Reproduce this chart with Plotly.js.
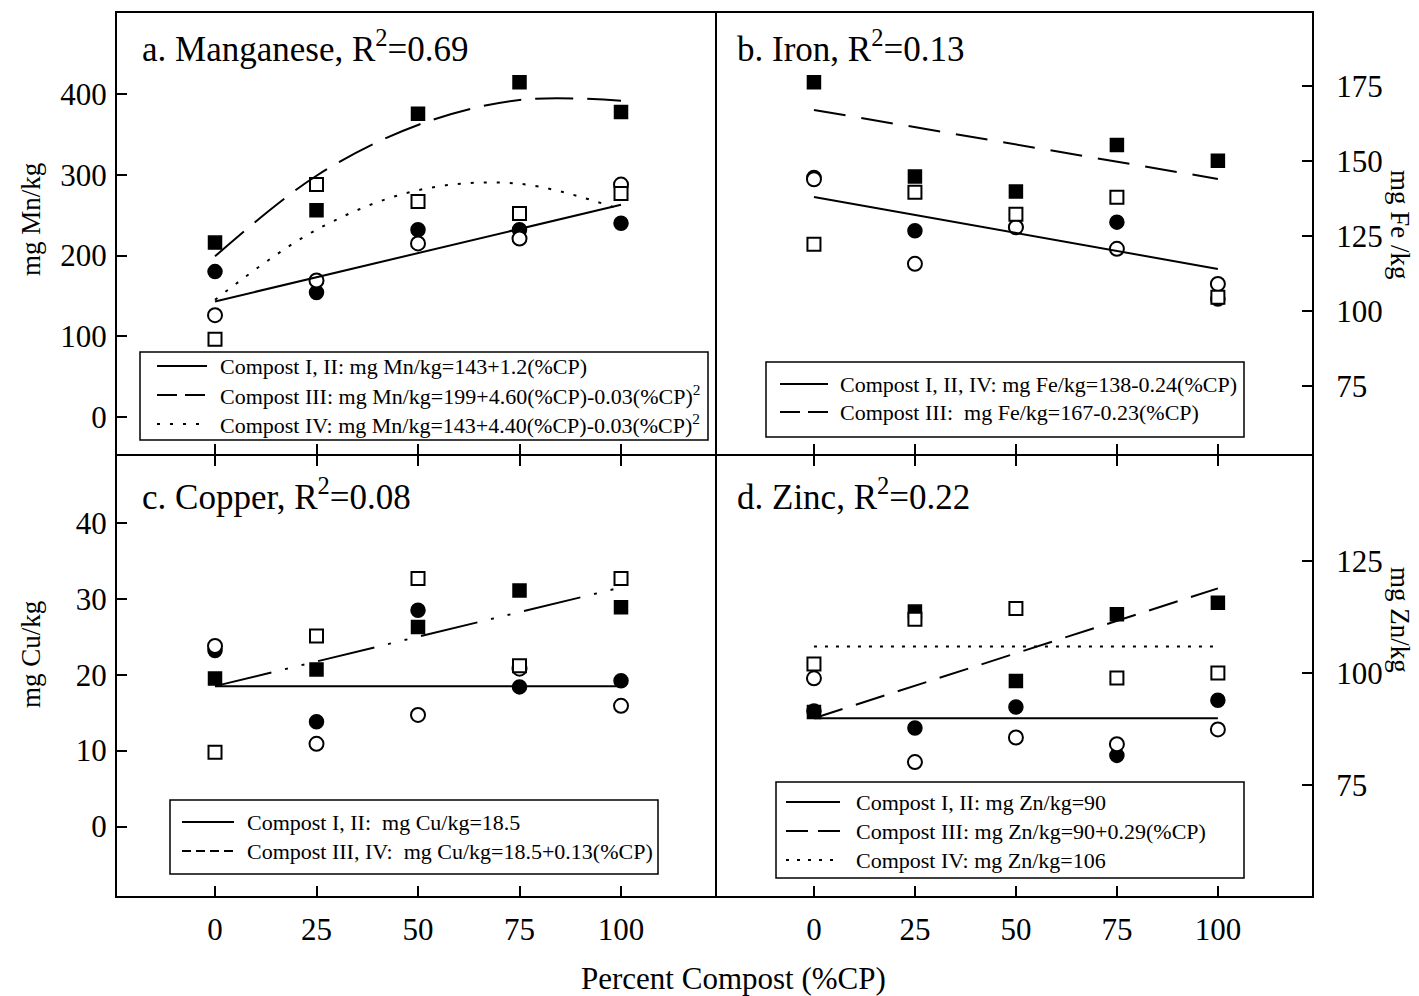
<!DOCTYPE html>
<html>
<head>
<meta charset="utf-8">
<script src="https://cdn.plot.ly/plotly-3.0.1.min.js"></script>
<style>
html,body{margin:0;padding:0;background:#fff;}
#chart{width:1419px;height:996px;}
</style>
</head>
<body>
<div id="chart"></div>
<script>
// ---- data ----
const pct = [0, 25, 50, 75, 100];
const fitEnds = [0, 100];

// Manganese (mg Mn/kg)
const mnCompostI   = [180, 154, 232, 232, 240];   // filled circles
const mnCompostII  = [126, 169, 215, 221, 288];   // open circles
const mnCompostIII = [216, 256, 376, 415, 378];   // filled squares
const mnCompostIV  = [96, 288, 267, 252, 277];    // open squares
const mnFitI_II    = [143, 263];
const mnFitIII     = [199, 299, 362, 393, 392];
const mnFitIV      = [145, 232, 281, 289, 257];

// Iron (mg Fe/kg)
const feCompostI   = [144.5, 126.7, 128, 129.6, 104];
const feCompostII  = [143.9, 115.7, 127.9, 120.7, 109];
const feCompostIII = [176.2, 144.8, 139.8, 155.3, 150.1];
const feCompostIV  = [122.2, 139.6, 132.2, 137.9, 104.6];
const feFitI_II_IV = [138, 114];
const feFitIII     = [167, 144];

// Copper (mg Cu/kg)
const cuCompostI   = [23.2, 13.8, 28.5, 18.4, 19.2];
const cuCompostII  = [23.8, 10.9, 14.7, 20.8, 15.9];
const cuCompostIII = [19.5, 20.7, 26.3, 31.1, 28.9];
const cuCompostIV  = [9.8, 25.1, 32.7, 21.2, 32.7];
const cuFitI_II    = [18.5, 18.5];
const cuFitIII_IV  = [18.5, 31.5];

// Zinc (mg Zn/kg)
const znCompostI   = [91.6, 87.8, 92.5, 81.7, 94.0];
const znCompostII  = [98.9, 80.2, 85.7, 84.2, 87.5];
const znCompostIII = [91.4, 113.8, 98.3, 113.2, 115.8];
const znCompostIV  = [102.1, 112.1, 114.5, 99.0, 100.1];
const znFitI_II    = [90, 90];
const znFitIII     = [90, 119];
const znFitIV      = [106, 106];

// tick labels
const xTicks = [0, 25, 50, 75, 100];
const mnTicks = [0, 100, 200, 300, 400];
const feTicks = [75, 100, 125, 150, 175];
const cuTicks = [0, 10, 20, 30, 40];
const znTicks = [75, 100, 125];

// legend texts
const mnLegend = ["Compost I, II: mg Mn/kg=143+1.2(%CP)",
                  "Compost III: mg Mn/kg=199+4.60(%CP)-0.03(%CP)<sup>2</sup>",
                  "Compost IV: mg Mn/kg=143+4.40(%CP)-0.03(%CP)<sup>2</sup>"];
const feLegend = ["Compost I, II, IV: mg Fe/kg=138-0.24(%CP)",
                  "Compost III:  mg Fe/kg=167-0.23(%CP)"];
const cuLegend = ["Compost I, II:  mg Cu/kg=18.5",
                  "Compost III, IV:  mg Cu/kg=18.5+0.13(%CP)"];
const znLegend = ["Compost I, II: mg Zn/kg=90",
                  "Compost III: mg Zn/kg=90+0.29(%CP)",
                  "Compost IV: mg Zn/kg=106"];

// ---- styling ----
const FONT = "Liberation Serif, Times New Roman, serif";
const W = 1419, H = 996;
const px = v => v / W;
const py = v => 1 - v / H;

const DASH_MN3 = '38px,14px', DOT_MN4 = '3px,10px';
const DASH_FE3 = '32px,16px';
const DASHDOT_CU = '58px,14px,3px,14px,3px,14px';
const DASH_ZN3 = '30px,14px', DOT_ZN4 = '3px,8px';

const MS = 14;
const markerStyles = {
  I:   {symbol: 'circle', size: MS, color: 'black', line: {color: 'black', width: 1.5}},
  II:  {symbol: 'circle', size: MS, color: 'white', line: {color: 'black', width: 2}},
  III: {symbol: 'square', size: MS - 1, color: 'black', line: {color: 'black', width: 1.5}},
  IV:  {symbol: 'square', size: MS - 1, color: 'white', line: {color: 'black', width: 2}}
};

const traces = [];
function pointSets(sets, xa, ya) {
  ['I', 'II', 'III', 'IV'].forEach((k, i) => {
    traces.push({x: pct, y: sets[i], xaxis: xa, yaxis: ya, type: 'scatter', mode: 'markers',
      name: 'Compost ' + k, marker: markerStyles[k], showlegend: false, hoverinfo: 'x+y'});
  });
}
function fit(x, y, xa, ya, name, dash, shape) {
  traces.push({x: x, y: y, xaxis: xa, yaxis: ya, type: 'scatter', mode: 'lines', name: name,
    line: {color: 'black', width: 2, dash: dash, shape: shape || 'linear', smoothing: 1.0},
    showlegend: false});
}

pointSets([mnCompostI, mnCompostII, mnCompostIII, mnCompostIV], 'x', 'y');
fit(fitEnds, mnFitI_II, 'x', 'y', mnLegend[0], 'solid');
fit(pct, mnFitIII, 'x', 'y', mnLegend[1], DASH_MN3, 'spline');
fit(pct, mnFitIV, 'x', 'y', mnLegend[2], DOT_MN4, 'spline');

pointSets([feCompostI, feCompostII, feCompostIII, feCompostIV], 'x2', 'y2');
fit(fitEnds, feFitI_II_IV, 'x2', 'y2', feLegend[0], 'solid');
fit(fitEnds, feFitIII, 'x2', 'y2', feLegend[1], DASH_FE3);

pointSets([cuCompostI, cuCompostII, cuCompostIII, cuCompostIV], 'x3', 'y3');
fit(fitEnds, cuFitI_II, 'x3', 'y3', cuLegend[0], 'solid');
fit(fitEnds, cuFitIII_IV, 'x3', 'y3', cuLegend[1], DASHDOT_CU);

pointSets([znCompostI, znCompostII, znCompostIII, znCompostIV], 'x4', 'y4');
fit(fitEnds, znFitI_II, 'x4', 'y4', znLegend[0], 'solid');
fit(fitEnds, znFitIII, 'x4', 'y4', znLegend[1], DASH_ZN3);
fit(fitEnds, znFitIV, 'x4', 'y4', znLegend[2], DOT_ZN4);

// panel domains (pixels); inner edges offset so the shared borders coincide
const leftDom = [px(117), px(715)];
const rightDom = [px(717), px(1312)];
const topDom = [py(454), py(13)];
const botDom = [py(896), py(456)];

function xAxis(domain, anchor, range, labels, mirror) {
  return {domain: domain, anchor: anchor, range: range, tickmode: 'array', tickvals: xTicks,
    ticktext: xTicks.map(String), showticklabels: labels, ticks: 'inside', ticklen: 10, tickwidth: 2,
    tickcolor: 'black', showline: true, linecolor: 'black', linewidth: 2, mirror: mirror,
    showgrid: false, zeroline: false, ticklabelstandoff: 5,
    tickfont: {family: FONT, size: 31, color: 'black'}, fixedrange: true};
}
function yAxis(domain, anchor, range, ticks, side) {
  return {domain: domain, anchor: anchor, range: range, side: side, tickmode: 'array', tickvals: ticks,
    ticktext: ticks.map(String), ticks: 'inside', ticklen: 10, tickwidth: 2, tickcolor: 'black',
    showline: true, linecolor: 'black', linewidth: 2, mirror: true, showgrid: false, zeroline: false,
    ticklabelstandoff: side === 'right' ? 16 : 2,
    tickfont: {family: FONT, size: 31, color: 'black'}, fixedrange: true};
}
function ann(text, x, y, size, opts) {
  return Object.assign({text: text, x: px(x), y: py(y), xref: 'paper', yref: 'paper',
    showarrow: false, font: {family: FONT, size: size, color: 'black'}}, opts || {});
}

const shapes = [];
const annotations = [
  ann('a. Manganese, R<sup>2</sup>=0.69', 140, 46, 35, {xanchor: 'left', yanchor: 'middle'}),
  ann('b. Iron, R<sup>2</sup>=0.13', 735, 46, 35, {xanchor: 'left', yanchor: 'middle'}),
  ann('c. Copper, R<sup>2</sup>=0.08', 140, 495, 35, {xanchor: 'left', yanchor: 'middle'}),
  ann('d. Zinc, R<sup>2</sup>=0.22', 735, 495, 35, {xanchor: 'left', yanchor: 'middle'}),
  ann('mg Mn/kg', 31, 220, 27, {textangle: -90, xanchor: 'center', yanchor: 'middle'}),
  ann('mg Cu/kg', 31, 655, 27, {textangle: -90, xanchor: 'center', yanchor: 'middle'}),
  ann('mg Fe /kg', 1400, 225, 27, {textangle: 90, xanchor: 'center', yanchor: 'middle'}),
  ann('mg Zn/kg', 1400, 620, 27, {textangle: 90, xanchor: 'center', yanchor: 'middle'}),
  ann('Percent Compost (%CP)', 733, 978, 31, {xanchor: 'center', yanchor: 'middle'})
];

// key boxes: box [x0,x1,y0,y1], row y's, sample x0/x1, text x
function keyBox(box, rows, sx0, sx1, tx, texts, dashes) {
  shapes.push({type: 'rect', xref: 'paper', yref: 'paper', x0: px(box[0]), x1: px(box[1]),
    y0: py(box[3]), y1: py(box[2]), line: {color: 'black', width: 1.5}, fillcolor: 'white', layer: 'above'});
  texts.forEach((t, i) => {
    shapes.push({type: 'line', xref: 'paper', yref: 'paper', x0: px(sx0), x1: px(sx1),
      y0: py(rows[i]), y1: py(rows[i]), line: {color: 'black', width: 2, dash: dashes[i]}, layer: 'above'});
    annotations.push(ann(t, tx, rows[i], 22, {xanchor: 'left', yanchor: 'middle'}));
  });
}
keyBox([140, 708, 352, 440], [366, 395, 424], 157, 207, 218, mnLegend, ['solid', '20px,8px', '3px,10px']);
keyBox([766, 1244, 362, 437], [384, 412], 780, 828, 838, feLegend, ['solid', '20px,8px']);
keyBox([170, 658, 800, 874], [822, 851], 182, 234, 245, cuLegend, ['solid', '9px,5px']);
keyBox([776, 1244, 782, 878], [802, 831, 860], 786, 840, 854, znLegend, ['solid', '22px,10px', '3px,8px']);

const layout = {
  width: W, height: H,
  margin: {l: 0, r: 0, t: 0, b: 0},
  paper_bgcolor: 'white', plot_bgcolor: 'white',
  font: {family: FONT, color: 'black'},
  showlegend: false,
  xaxis: xAxis(leftDom, 'y', [-24.14, 123.15], false, true),
  yaxis: yAxis(topDom, 'x', [-46.3, 500.9], mnTicks, 'left'),
  xaxis2: xAxis(rightDom, 'y2', [-24.0, 123.3], false, true),
  yaxis2: yAxis(topDom, 'x2', [52.33, 199.3], feTicks, 'right'),
  xaxis3: xAxis(leftDom, 'y3', [-24.14, 123.15], true, 'ticks'),
  yaxis3: yAxis(botDom, 'x3', [-9.16, 48.83], cuTicks, 'left'),
  xaxis4: xAxis(rightDom, 'y4', [-24.0, 123.3], true, 'ticks'),
  yaxis4: yAxis(botDom, 'x4', [50.3, 148.55], znTicks, 'right'),
  shapes: shapes,
  annotations: annotations
};

Plotly.newPlot('chart', traces, layout, {displayModeBar: false, staticPlot: true});
</script>
</body>
</html>
